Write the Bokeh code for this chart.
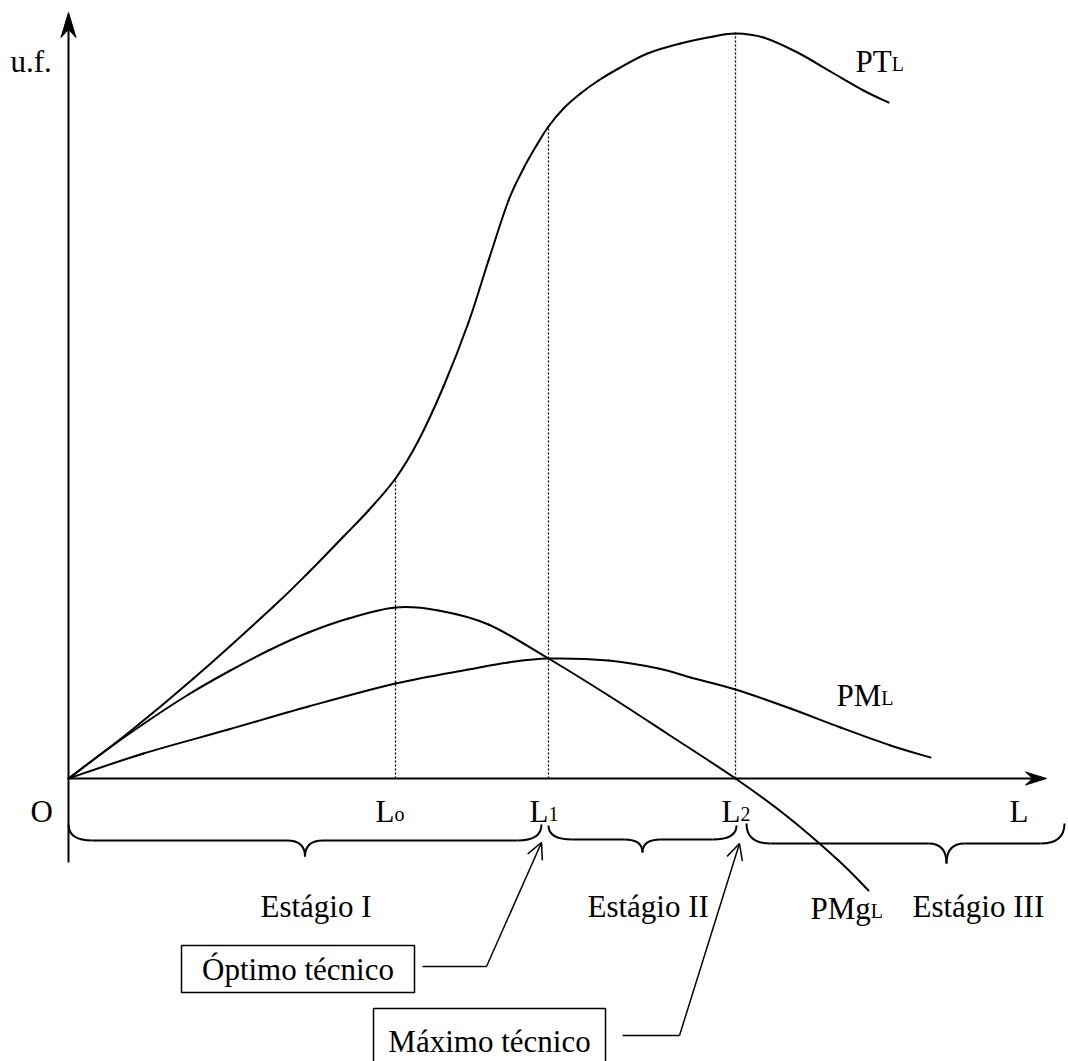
from bokeh.plotting import figure
from bokeh.models import Range1d, Arrow, OpenHead
from bokeh.core.properties import value
from bokeh.embed import file_html
from bokeh.resources import INLINE

# ---------------- data (L on x, u.f. on y, origin at O) ----------------
pt_L = [0, 59, 125, 205, 240, 275, 300, 327, 350, 375, 400, 420, 440, 455, 468, 480,
        495, 512, 530, 550, 579, 612, 645, 667, 695, 729, 762, 795, 820]
pt_Q = [0, 45, 100, 172, 206, 242, 268, 300, 338, 392, 456, 518, 578, 610, 633, 652,
        670, 685, 698, 710, 725, 735, 742, 745, 741, 726, 707, 688, 676]

pmg_L = [0, 40, 80, 120, 160, 200, 240, 280, 327, 370, 420, 480, 540, 600, 667, 720, 770, 800]
pmg_Q = [0, 30, 58, 84, 107, 128, 146, 160, 171, 168, 154, 120, 83, 44, 0, -39, -82, -112]

pme_L = [0, 75, 160, 240, 327, 400, 440, 480, 540, 590, 622, 667, 722, 772, 822, 862]
pme_Q = [0, 25, 49, 72, 95, 109, 116, 120, 118, 110, 101, 89, 70, 51, 33, 21]

L_marks = [327, 480, 667]          # L0, L1, L2
mark_subs = ["o", "1", "2"]
stage_names = ["Estágio I", "Estágio II", "Estágio III"]
curve_names = ["PT", "PM", "PMg"]
box_texts = ["Óptimo técnico", "Máximo técnico"]

# ---------------- figure ----------------
FONT = value("Liberation Serif")
BIG = "31px"
SMALL = "20px"
DY = 9   # text lift

p = figure(width=1068, height=1061, x_range=Range1d(-68, 1000), y_range=Range1d(-283, 778),
           output_backend="svg", toolbar_location=None, x_axis_type=None, y_axis_type=None,
           min_border=0)
p.outline_line_color = None
p.background_fill_color = "white"
p.border_fill_color = "white"

# axes with arrow heads
y_bottom, y_tip = -84, 766
x_tip = 978
p.line([0, 0], [y_bottom, y_tip - 14], line_width=2, color="black")
p.patch([0, -7.5, 0, 7.5], [y_tip, y_tip - 25, y_tip - 17, y_tip - 25], color="black", line_width=1)
p.line([0, x_tip - 10], [0, 0], line_width=2, color="black")
p.patch([x_tip, x_tip - 21, x_tip - 14, x_tip - 21], [0, 6.5, 0, -6.5], color="black", line_width=1)

# dotted guides up to PT
pt_at_marks = [pt_Q[pt_L.index(m)] for m in L_marks]
p.segment(x0=L_marks, y0=[0] * 3, x1=L_marks, y1=pt_at_marks, line_dash="2 2",
          line_width=1.3, color="black")


# smooth curves drawn through the read points (Catmull-Rom as cubic Beziers)
def smooth_line(xs, ys, **kw):
    X = [xs[0]] + list(xs) + [xs[-1]]
    Y = [ys[0]] + list(ys) + [ys[-1]]
    x0, y0, x1, y1, cx0, cy0, cx1, cy1 = ([] for _ in range(8))
    for i in range(1, len(X) - 2):
        x0.append(X[i]); y0.append(Y[i]); x1.append(X[i + 1]); y1.append(Y[i + 1])
        cx0.append(X[i] + (X[i + 1] - X[i - 1]) / 6.0)
        cy0.append(Y[i] + (Y[i + 1] - Y[i - 1]) / 6.0)
        cx1.append(X[i + 1] - (X[i + 2] - X[i]) / 6.0)
        cy1.append(Y[i + 1] - (Y[i + 2] - Y[i]) / 6.0)
    p.bezier(x0=x0, y0=y0, x1=x1, y1=y1, cx0=cx0, cy0=cy0, cx1=cx1, cy1=cy1,
             line_cap="round", **kw)


smooth_line(pt_L, pt_Q, line_width=2, line_color="black")
smooth_line(pmg_L, pmg_Q, line_width=2, line_color="black")
smooth_line(pme_L, pme_Q, line_width=2, line_color="black")


# braces
def brace(x0, xm, x1, yt, yf, ytip, r=24, r2=18):
    p.quadratic(x0=[x0, xm - r2, xm + r2, x1 - r],
                y0=[yt, yf, yf, yf],
                x1=[x0 + r, xm, xm, x1],
                y1=[yf, ytip, ytip, yt],
                cx=[x0, xm, xm, x1], cy=[yf, yf, yf, yf],
                line_width=2, line_color="black")
    p.segment(x0=[x0 + r, xm + r2], y0=[yf, yf], x1=[xm - r2, x1 - r], y1=[yf, yf],
              line_width=2, color="black")


brace(0, (0 + L_marks[1] - 7) / 2, L_marks[1] - 7, -46, -62, -78)
brace(L_marks[1], (L_marks[1] + L_marks[2] + 1) / 2, L_marks[2] + 1, -47, -61, -74)
brace(L_marks[2] + 11, 878, 996, -45, -65, -85)


# text helpers
def txt(s, x, y, size=BIG, align="left"):
    p.text(x=[x], y=[y + DY], text=[s], text_font=FONT, text_font_size=size,
           text_baseline="alphabetic", text_align=align, text_color="black")


txt("u.f.", -58, 708)
txt("O", -38, -42)
# tick labels L0, L1, L2 and axis label L
for lx, sub in zip([L_marks[0] - 20, L_marks[1] - 19, L_marks[2] - 14], mark_subs):
    txt("L", lx, -42)
    txt(sub, lx + 18.9, -44, SMALL)
txt("L", 941, -42)

# curve labels
txt(curve_names[0], 787, 708)
txt("L", 787 + 36.2, 706, SMALL)
txt(curve_names[1], 768, 74)
txt("L", 768 + 44.8, 72, SMALL)
txt(curve_names[2], 742, -139)
txt("L", 742 + 60.3, -141, SMALL)

# stage labels
for s, x in zip(stage_names, [192, 519, 844]):
    txt(s, x, -137)

# boxes
p.quad(left=[113, 305], right=[346, 537], top=[-167, -230], bottom=[-214, -300],
       fill_color=None, line_color="black", line_width=1.5)
txt(box_texts[0], 229.5, -200, align="center")
txt(box_texts[1], 421, -272, align="center")

# pointer lines with open arrow heads
p.line([354, 418], [-188, -188], line_width=1.5, color="black")
p.add_layout(Arrow(end=OpenHead(size=16, line_width=1.5), x_start=418, y_start=-188,
                   x_end=473, y_end=-64, line_width=1.5, line_color="black"))
p.line([554, 611], [-257, -257], line_width=1.5, color="black")
p.add_layout(Arrow(end=OpenHead(size=16, line_width=1.5), x_start=611, y_start=-257,
                   x_end=671, y_end=-65, line_width=1.5, line_color="black"))

open("out.html", "w").write(file_html(p, INLINE))
